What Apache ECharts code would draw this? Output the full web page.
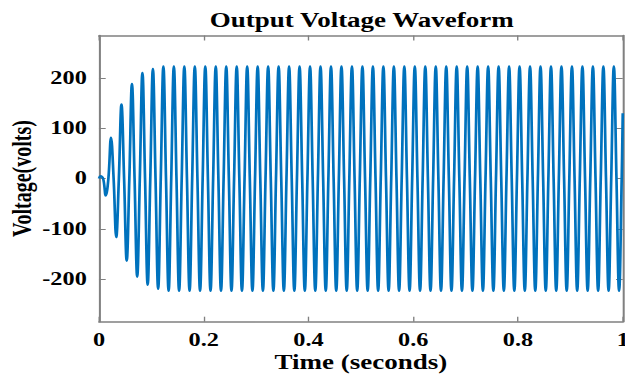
<!DOCTYPE html>
<html>
<head>
<meta charset="utf-8">
<script src="https://cdn.jsdelivr.net/npm/echarts@6/dist/echarts.min.js"></script>
<style>
html,body{margin:0;padding:0;background:#fff;overflow:hidden;width:625px;height:377px;}
#chart{width:463px;height:377px;transform:scaleX(1.35);transform-origin:0 0;}
</style>
</head>
<body>
<div id="chart"></div>
<script>
// Sample times (s): start, then alternating peak / zero-crossing readings
const timeS = [0,
0.003,0.008,0.013,0.018,0.023,0.028,0.033,0.038,0.043,0.048,
0.053,0.058,0.063,0.068,0.073,0.078,0.083,0.088,0.093,0.098,
0.103,0.108,0.113,0.118,0.123,0.128,0.133,0.138,0.143,0.148,
0.153,0.158,0.163,0.168,0.173,0.178,0.183,0.188,0.193,0.198,
0.203,0.208,0.213,0.218,0.223,0.228,0.233,0.238,0.243,0.248,
0.253,0.258,0.263,0.268,0.273,0.278,0.283,0.288,0.293,0.298,
0.303,0.308,0.313,0.318,0.323,0.328,0.333,0.338,0.343,0.348,
0.353,0.358,0.363,0.368,0.373,0.378,0.383,0.388,0.393,0.398,
0.403,0.408,0.413,0.418,0.423,0.428,0.433,0.438,0.443,0.448,
0.453,0.458,0.463,0.468,0.473,0.478,0.483,0.488,0.493,0.498,
0.503,0.508,0.513,0.518,0.523,0.528,0.533,0.538,0.543,0.548,
0.553,0.558,0.563,0.568,0.573,0.578,0.583,0.588,0.593,0.598,
0.603,0.608,0.613,0.618,0.623,0.628,0.633,0.638,0.643,0.648,
0.653,0.658,0.663,0.668,0.673,0.678,0.683,0.688,0.693,0.698,
0.703,0.708,0.713,0.718,0.723,0.728,0.733,0.738,0.743,0.748,
0.753,0.758,0.763,0.768,0.773,0.778,0.783,0.788,0.793,0.798,
0.803,0.808,0.813,0.818,0.823,0.828,0.833,0.838,0.843,0.848,
0.853,0.858,0.863,0.868,0.873,0.878,0.883,0.888,0.893,0.898,
0.903,0.908,0.913,0.918,0.923,0.928,0.933,0.938,0.943,0.948,
0.953,0.958,0.963,0.968,0.973,0.978,0.983,0.988,0.993,0.998,
1];

// Voltage readings (V) at those times
const voltV = [0,
5,0,-34,0,82,0,-117,0,148,0,
-164,0,189,0,-196,0,211,0,-212,0,
219,0,-220,0,224,0,-224,0,224,0,
-224,0,224,0,-224,0,224,0,-224,0,
224,0,-224,0,224,0,-224,0,224,0,
-224,0,224,0,-224,0,224,0,-224,0,
224,0,-224,0,224,0,-224,0,224,0,
-224,0,224,0,-224,0,224,0,-224,0,
224,0,-224,0,224,0,-224,0,224,0,
-224,0,224,0,-224,0,224,0,-224,0,
224,0,-224,0,224,0,-224,0,224,0,
-224,0,224,0,-224,0,224,0,-224,0,
224,0,-224,0,224,0,-224,0,224,0,
-224,0,224,0,-224,0,224,0,-224,0,
224,0,-224,0,224,0,-224,0,224,0,
-224,0,224,0,-224,0,224,0,-224,0,
224,0,-224,0,224,0,-224,0,224,0,
-224,0,224,0,-224,0,224,0,-224,0,
224,0,-224,0,224,0,-224,0,224,0,
-224,0,224,0,-224,0,224,0,-224,0,
130];

const yTicks = [-200, -100, 0, 100, 200];
const titleText = 'Output Voltage Waveform';
const xName = 'Time (seconds)';
const yName = 'Voltage(volts)';

const serif = 'Liberation Serif, Times New Roman, serif';
const axisGray = '#808080';
const data = timeS.map((t, i) => [t, voltV[i]]);
const plainNum = v => String(v).replace('\u2212', '-');

const lineCommon = {show: true, onZero: false, lineStyle: {color: axisGray, width: 1.5}};
const tickCommon = {show: true, inside: true, length: 5, lineStyle: {color: axisGray, width: 1}};

const chart = echarts.init(document.getElementById('chart'), null, {renderer: 'svg', width: 463, height: 377});
chart.setOption({
  animation: false,
  backgroundColor: '#fff',
  title: {
    text: titleText,
    left: 268, top: 10, padding: 0, textAlign: 'center',
    textStyle: {fontFamily: serif, fontWeight: 'bold', fontSize: 20, color: '#000'}
  },
  grid: {left: 73.3, right: 1.7, top: 35.5, bottom: 55.3, containLabel: false, outerBoundsMode: 'none'},
  xAxis: [{
    type: 'value', min: 0, max: 1, interval: 0.2, position: 'bottom',
    name: xName, nameLocation: 'middle', nameGap: 31, nameMoveOverlap: false,
    nameTextStyle: {fontFamily: serif, fontWeight: 'bold', fontSize: 20, color: '#000'},
    axisLine: lineCommon,
    axisTick: tickCommon,
    axisLabel: {margin: 9, fontFamily: serif, fontWeight: 'bold', fontSize: 18, color: '#000', formatter: plainNum},
    splitLine: {show: false}
  }, {
    type: 'value', min: 0, max: 1, interval: 0.2, position: 'top',
    axisLine: lineCommon,
    axisTick: tickCommon,
    axisLabel: {show: false},
    splitLine: {show: false}
  }],
  yAxis: [{
    type: 'value', min: -285, max: 285, position: 'left',
    name: yName, nameLocation: 'middle', nameGap: 47, nameRotate: 90, nameMoveOverlap: false,
    nameTextStyle: {fontFamily: serif, fontWeight: 'bold', fontSize: 20, color: '#000'},
    axisLine: lineCommon,
    axisTick: Object.assign({customValues: yTicks}, tickCommon),
    axisLabel: {margin: 9, customValues: yTicks, fontFamily: serif, fontWeight: 'bold', fontSize: 18, color: '#000', formatter: plainNum},
    splitLine: {show: false}
  }, {
    type: 'value', min: -285, max: 285, position: 'right',
    axisLine: lineCommon,
    axisTick: Object.assign({customValues: yTicks}, tickCommon),
    axisLabel: {show: false},
    splitLine: {show: false}
  }],
  series: [{
    type: 'line',
    data: data,
    xAxisIndex: 0, yAxisIndex: 0,
    showSymbol: false,
    smooth: 0.4,
    lineStyle: {color: '#0072BD', width: 2.0},
    clip: true
  }]
});
</script>
</body>
</html>
